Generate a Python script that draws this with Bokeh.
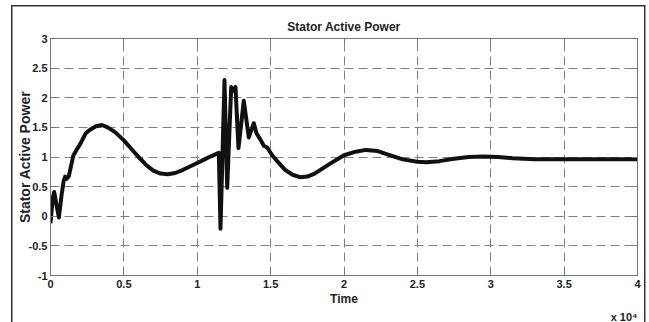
from bokeh.plotting import figure
from bokeh.models import Range1d, FixedTicker, LinearAxis, Title
from bokeh.embed import file_html
from bokeh.resources import INLINE

# Stator active power response over time (time in samples)
time = [0, 150, 250, 400, 570, 750, 900, 1000, 1100, 1250, 1400, 1550, 1750,
        2050, 2400, 2750, 3100, 3500, 3900, 4400, 5000, 5500, 6000, 6500,
        7000, 7500, 8000, 8500, 9000, 9500, 10000, 10500, 11000, 11470,
        11584, 11857, 12040, 12313, 12490, 12606, 12810, 13171, 13512,
        13853, 14037, 14310, 14536, 14763, 15105, 15446, 16000, 16500,
        17000, 17500, 18000, 18500, 19000, 20000, 20800, 21500, 22300,
        23000, 24000, 25000, 25600, 26500, 27500, 28500, 29500, 30500,
        31500, 33000, 35000, 37000, 40000]
power = [-0.12, 0.30, 0.41, 0.20, -0.02, 0.35, 0.60, 0.67, 0.63, 0.68, 0.85,
         1.02, 1.11, 1.23, 1.40, 1.47, 1.52, 1.54, 1.50, 1.42, 1.28, 1.14,
         1.00, 0.87, 0.77, 0.72, 0.71, 0.73, 0.78, 0.84, 0.90, 0.96, 1.02,
         1.07, -0.21, 2.30, 0.48, 2.18, 2.12, 2.18, 1.15, 1.95, 1.33, 1.57,
         1.40, 1.29, 1.19, 1.16, 1.03, 0.93, 0.78, 0.70, 0.66, 0.67, 0.72,
         0.80, 0.88, 1.03, 1.09, 1.12, 1.10, 1.04, 0.96, 0.92, 0.91, 0.93,
         0.97, 1.00, 1.01, 1.00, 0.98, 0.96, 0.96, 0.96, 0.96]

x_ticks = [0, 5000, 10000, 15000, 20000, 25000, 30000, 35000, 40000]
x_tick_labels = ["0", "0.5", "1", "1.5", "2", "2.5", "3", "3.5", "4"]
x_scale_label = "x 10\u2074"
y_ticks = [-1, -0.5, 0, 0.5, 1, 1.5, 2, 2.5, 3]
y_tick_labels = ["-1", "-0.5", "0", "0.5", "1", "1.5", "2", "2.5", "3"]

FONT = "'Liberation Sans', Arial, sans-serif"
AXIS_GRAY = "#777777"
INK = "#222222"

# Outer frame around the figure, drawn as thin background stripes
frame_css = ("linear-gradient(#333,#333) 11px 5px / 1.5px 330px no-repeat, "
             "linear-gradient(#333,#333) 11px 5px / 634px 1.5px no-repeat, "
             "linear-gradient(#333,#333) 644px 5px / 1.5px 330px no-repeat, white")

p = figure(width=649, height=322, output_backend="svg", toolbar_location=None,
           x_range=Range1d(0, 40000), y_range=Range1d(-1, 3),
           min_border_left=50, min_border_right=12, min_border_top=38,
           min_border_bottom=47, background_fill_color="white",
           border_fill_color=None, outline_line_color=AXIS_GRAY,
           title="Stator Active Power", styles={"background": frame_css})

p.title.align = "center"
p.title.text_font = FONT
p.title.text_font_size = "12px"
p.title.text_font_style = "bold"
p.title.text_color = INK

p.xaxis.ticker = FixedTicker(ticks=x_ticks)
p.xaxis.major_label_overrides = dict(zip(x_ticks, x_tick_labels))
p.xaxis.axis_label = "Time"
p.yaxis.ticker = FixedTicker(ticks=y_ticks)
p.yaxis.major_label_overrides = dict(zip(y_ticks, y_tick_labels))
p.yaxis.axis_label = "Stator Active Power"

for ax in (p.xaxis[0], p.yaxis[0]):
    ax.axis_line_color = AXIS_GRAY
    ax.major_tick_line_color = AXIS_GRAY
    ax.major_tick_in = 6
    ax.major_tick_out = 0
    ax.minor_tick_line_color = None
    ax.major_label_text_font = FONT
    ax.major_label_text_font_size = "11px"
    ax.major_label_text_font_style = "bold"
    ax.major_label_text_color = INK
    ax.axis_label_text_font = FONT
    ax.axis_label_text_font_style = "bold"
    ax.axis_label_text_color = INK

p.xaxis.major_label_standoff = 4
p.xaxis.axis_label_standoff = 1
p.xaxis.axis_label_text_font_size = "12px"
p.yaxis.major_label_standoff = 3
p.yaxis.axis_label_standoff = -7
p.yaxis.axis_label_text_font_size = "14px"

# Tick marks on the top and right edges of the box
for loc, tk in (("above", x_ticks), ("right", y_ticks)):
    ax = LinearAxis(ticker=FixedTicker(ticks=tk), major_label_text_font_size="1px",
                    major_label_text_color=None, major_label_standoff=0,
                    major_tick_in=6, major_tick_out=0,
                    minor_tick_line_color=None, axis_line_color=AXIS_GRAY,
                    major_tick_line_color=AXIS_GRAY)
    p.add_layout(ax, loc)

p.xgrid.ticker = FixedTicker(ticks=x_ticks)
p.ygrid.ticker = FixedTicker(ticks=y_ticks)
p.grid.grid_line_color = "#808080"
p.grid.grid_line_dash = "9 5"
p.grid.grid_line_width = 1

p.line(time, power, line_color="#111111", line_width=4, line_join="round")

# Scale factor of the time axis, right-aligned under the axis
p.add_layout(Title(text=x_scale_label, align="right", text_font=FONT,
                   text_font_size="11px", text_font_style="bold", text_color=INK,
                   standoff=0, offset=0), "below")

open("out.html", "w").write(file_html(p, INLINE))
